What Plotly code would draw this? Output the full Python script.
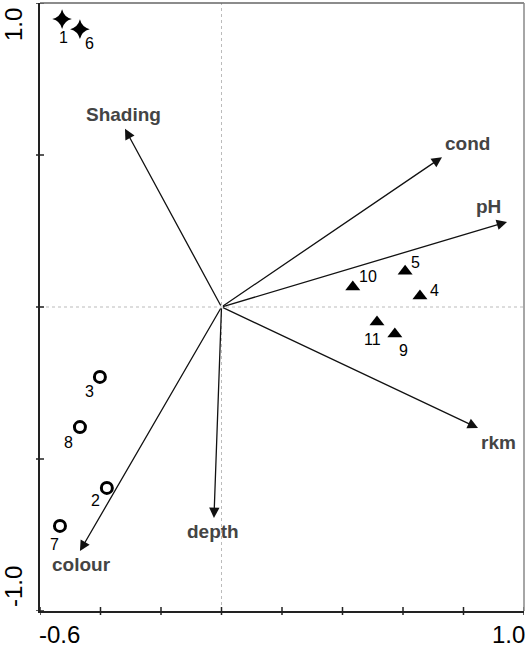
import plotly.graph_objects as go

# Sites (sample scores)
star_ids = ["1", "6"]
star_x = [-0.527, -0.468]
star_y = [0.947, 0.914]

circle_ids = ["3", "8", "2", "7"]
circle_x = [-0.402, -0.468, -0.379, -0.534]
circle_y = [-0.230, -0.395, -0.595, -0.720]

tri_ids = ["10", "5", "4", "11", "9"]
tri_x = [0.434, 0.607, 0.656, 0.514, 0.573]
tri_y = [0.066, 0.118, 0.036, -0.049, -0.089]

# Environmental vectors
env_names = ["Shading", "cond", "pH", "rkm", "depth", "colour"]
env_x = [-0.319, 0.729, 0.944, 0.848, -0.025, -0.468]
env_y = [0.586, 0.493, 0.280, -0.398, -0.694, -0.803]

# Axis ticks
x_ticks = [-0.6, -0.4, -0.2, 0.0, 0.2, 0.4, 0.6, 0.8, 1.0]
y_ticks = [-1.0, -0.5, 0.0, 0.5, 1.0]
x_range = [-0.6, 1.0]
y_range = [-1.0, 1.0]

fig = go.Figure()

fig.add_trace(go.Scatter(x=star_x, y=star_y, mode="markers",
                         marker=dict(symbol="star-diamond", size=14, color="black",
                                     line=dict(width=0)),
                         hoverinfo="skip", showlegend=False))
fig.add_trace(go.Scatter(x=circle_x, y=circle_y, mode="markers",
                         marker=dict(symbol="circle-open", size=11, color="black",
                                     line=dict(width=3)),
                         hoverinfo="skip", showlegend=False))
fig.add_trace(go.Scatter(x=tri_x, y=tri_y, mode="markers",
                         marker=dict(symbol="triangle-up", size=13, color="black"),
                         hoverinfo="skip", showlegend=False))

annotations = []
lab_font = dict(family="Liberation Sans, Arial", size=16, color="black")

# site label offsets in pixels (dx, dy screen)
star_off = [(1, 18), (10, 14)]
circle_off = [(-10, 15), (-11, 15), (-11, 13), (-5, 19)]
tri_off = [(15, -10), (10, -9), (15, -6), (-4, 18), (9, 16)]
for ids, xs, ys, offs in [(star_ids, star_x, star_y, star_off),
                          (circle_ids, circle_x, circle_y, circle_off),
                          (tri_ids, tri_x, tri_y, tri_off)]:
    for t, xv, yv, (dx, dy) in zip(ids, xs, ys, offs):
        annotations.append(dict(x=xv, y=yv, text=t, showarrow=False, xref="x", yref="y",
                                xshift=dx, yshift=-dy, font=lab_font))

# arrows
for name, xv, yv in zip(env_names, env_x, env_y):
    annotations.append(dict(x=xv, y=yv, ax=0, ay=0, axref="x", ayref="y",
                            xref="x", yref="y", showarrow=True, arrowhead=2,
                            arrowsize=1.6, arrowwidth=1.3, arrowcolor="#111", text=""))

env_off = [(-2, -14), (25, -14), (-19, -15), (20, 15), (-1, 14), (2, 13)]
env_font = dict(family="Liberation Sans, Arial", size=19, color="#444")
for name, xv, yv, (dx, dy) in zip(env_names, env_x, env_y, env_off):
    annotations.append(dict(x=xv, y=yv, text="<b>%s</b>" % name, showarrow=False,
                            xref="x", yref="y", xshift=dx, yshift=-dy, font=env_font))

tick_font = dict(family="Liberation Sans, Arial", size=24, color="black")
annotations += [
    dict(x=x_range[0], y=y_range[1], xref="x", yref="y", text="%.1f" % y_range[1],
         textangle=-90, showarrow=False, xanchor="right", yanchor="top",
         xshift=-11, yshift=-3, font=tick_font),
    dict(x=x_range[0], y=y_range[0], xref="x", yref="y", text="%.1f" % y_range[0],
         textangle=-90, showarrow=False, xanchor="right", yanchor="bottom",
         xshift=-11, yshift=2, font=tick_font),
    dict(x=x_range[0], y=0, xref="x", yref="paper", text="%.1f" % x_range[0],
         showarrow=False, xanchor="left", yanchor="top", xshift=-3, yshift=-8,
         font=tick_font),
    dict(x=x_range[1], y=0, xref="x", yref="paper", text="%.1f" % x_range[1],
         showarrow=False, xanchor="right", yanchor="top", xshift=3, yshift=-8,
         font=tick_font),
]

shapes = []
# dotted zero lines
shapes.append(dict(type="line", xref="x", yref="paper", x0=0, x1=0, y0=0, y1=1,
                   line=dict(color="#bbb", width=1, dash="dot"), layer="below"))
shapes.append(dict(type="line", xref="paper", yref="y", x0=0, x1=1, y0=0, y1=0,
                   line=dict(color="#bbb", width=1, dash="dot"), layer="below"))
# crossing ticks
for xv in x_ticks:
    shapes.append(dict(type="line", xref="x", yref="paper", x0=xv, x1=xv,
                       ysizemode="pixel", yanchor=0, y0=-4, y1=4,
                       line=dict(color="#222", width=1.5)))
for yv in y_ticks:
    shapes.append(dict(type="line", yref="y", xref="paper", y0=yv, y1=yv,
                       xsizemode="pixel", xanchor=0, x0=-4, x1=4,
                       line=dict(color="#222", width=1.5)))
# top / right frame
shapes.append(dict(type="line", xref="paper", yref="paper", x0=0, x1=1, y0=1, y1=1,
                   line=dict(color="#666", width=1.5)))
shapes.append(dict(type="line", xref="paper", yref="paper", x0=1, x1=1, y0=0, y1=1,
                   line=dict(color="#888", width=1.5)))

fig.update_layout(
    width=525, height=647,
    margin=dict(l=40, r=1, t=3, b=36),
    paper_bgcolor="white", plot_bgcolor="white",
    showlegend=False,
    annotations=annotations, shapes=shapes,
    xaxis=dict(range=x_range, showgrid=False, zeroline=False, showticklabels=False,
               ticks="", showline=True, linecolor="#222", linewidth=1.5),
    yaxis=dict(range=y_range, showgrid=False, zeroline=False, showticklabels=False,
               ticks="", showline=True, linecolor="#222", linewidth=1.5),
)

fig.write_html("out.html", config={"displayModeBar": False},
               post_script="document.body.style.margin='0';"
                           "document.body.style.overflow='hidden';")
